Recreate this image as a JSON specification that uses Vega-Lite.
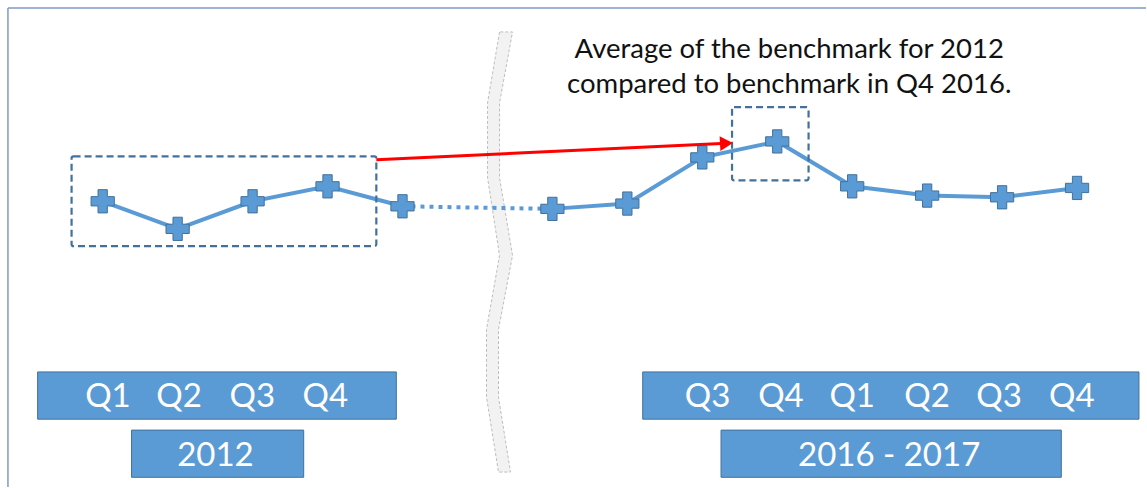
{
  "$schema": "https://vega.github.io/schema/vega-lite/v6.json",
  "width": 1147,
  "height": 488,
  "autosize": {"type": "fit", "contains": "padding"},
  "padding": 0,
  "background": "#ffffff",
  "config": {"view": {"stroke": null}},
  "datasets": {
    "series": [
      {"q": 0, "v": 58.67, "seg": "2012"},
      {"q": 1, "v": 53.01, "seg": "2012"},
      {"q": 2, "v": 58.67, "seg": "2012"},
      {"q": 3, "v": 61.74, "seg": "2012"},
      {"q": 4, "v": 57.64, "seg": "2012"},
      {"q": 6, "v": 57.11, "seg": "2016"},
      {"q": 7, "v": 58.20, "seg": "2016"},
      {"q": 8, "v": 67.68, "seg": "2016"},
      {"q": 9, "v": 70.96, "seg": "2016"},
      {"q": 10, "v": 61.74, "seg": "2016"},
      {"q": 11, "v": 59.84, "seg": "2016"},
      {"q": 12, "v": 59.49, "seg": "2016"},
      {"q": 13, "v": 61.41, "seg": "2016"}
    ],
    "gap": [
      {"q": 4, "v": 57.64},
      {"q": 6, "v": 57.11}
    ],
    "frame": [
      {"x": -1.264, "x2": -1.264, "y": 0, "y2": 98.36},
      {"x": -1.264, "x2": 13.92, "y": 98.36, "y2": 98.36}
    ],
    "strip": [
      {"y": 93.44, "l": 5.295, "r": 5.468},
      {"y": 78.89, "l": 5.135, "r": 5.295},
      {"y": 63.52, "l": 5.135, "r": 5.295},
      {"y": 47.54, "l": 5.295, "r": 5.468},
      {"y": 32.38, "l": 5.121, "r": 5.281},
      {"y": 18.44, "l": 5.121, "r": 5.281},
      {"y": 3.07, "l": 5.281, "r": 5.441}
    ],
    "focus": [
      {"x": -0.415, "x2": 3.651, "y": 67.89, "y2": 49.45},
      {"x": 8.397, "x2": 9.418, "y": 78.01, "y2": 62.97}
    ],
    "arrow": [
      {"x": 3.651, "y": 67.21, "x2": 8.254, "y2": 70.53}
    ],
    "head": [
      {"x": 8.322, "y": 70.59}
    ],
    "panels": [
      {"x": -0.868, "x2": 3.918, "y": 23.63, "y2": 13.93},
      {"x": 0.385, "x2": 2.682, "y": 11.68, "y2": 1.99},
      {"x": 7.205, "x2": 13.826, "y": 23.63, "y2": 13.93},
      {"x": 8.25, "x2": 12.79, "y": 11.68, "y2": 1.99}
    ],
    "labels": [
      {"x": 0.07, "y": 16.33, "text": "Q1"},
      {"x": 1.02, "y": 16.33, "text": "Q2"},
      {"x": 1.996, "y": 16.33, "text": "Q3"},
      {"x": 2.97, "y": 16.33, "text": "Q4"},
      {"x": 8.07, "y": 16.33, "text": "Q3"},
      {"x": 9.05, "y": 16.33, "text": "Q4"},
      {"x": 10.0, "y": 16.33, "text": "Q1"},
      {"x": 11.0, "y": 16.33, "text": "Q2"},
      {"x": 11.96, "y": 16.33, "text": "Q3"},
      {"x": 12.93, "y": 16.33, "text": "Q4"},
      {"x": 1.505, "y": 4.36, "text": "2012"},
      {"x": 10.493, "y": 4.36, "text": "2016 - 2017"}
    ],
    "notes": [
      {"x": 9.16, "y": 88.05, "text": "Average of the benchmark for 2012"},
      {"x": 9.16, "y": 80.88, "text": "compared to benchmark in Q4 2016."}
    ]
  },
  "layer": [
    {
      "data": {"name": "frame"},
      "mark": {"type": "rule", "color": "#7F9BC6", "strokeWidth": 1.5},
      "encoding": {
        "x": {"field": "x", "type": "quantitative", "scale": {"domain": [-1.37, 13.92], "nice": false, "zero": false}, "axis": null},
        "x2": {"field": "x2"},
        "y": {"field": "y", "type": "quantitative", "scale": {"domain": [0, 100], "nice": false, "zero": false}, "axis": null},
        "y2": {"field": "y2"}
      }
    },
    {
      "data": {"name": "strip"},
      "mark": {"type": "area", "orient": "horizontal", "fill": "#F2F2F2", "stroke": "#BDBDBD", "strokeWidth": 1, "strokeDash": [3, 2]},
      "encoding": {
        "y": {"field": "y", "type": "quantitative"},
        "x": {"field": "l", "type": "quantitative"},
        "x2": {"field": "r"}
      }
    },
    {
      "data": {"name": "series"},
      "mark": {"type": "line", "color": "#5B9BD5", "strokeWidth": 4, "strokeJoin": "miter"},
      "encoding": {
        "x": {"field": "q", "type": "quantitative"},
        "y": {"field": "v", "type": "quantitative"},
        "detail": {"field": "seg"}
      }
    },
    {
      "data": {"name": "gap"},
      "mark": {"type": "line", "color": "#5B9BD5", "strokeWidth": 4, "strokeDash": [4, 5]},
      "encoding": {
        "x": {"field": "q", "type": "quantitative"},
        "y": {"field": "v", "type": "quantitative"}
      }
    },
    {
      "data": {"name": "focus"},
      "mark": {"type": "rect", "fillOpacity": 0, "stroke": "#41719C", "strokeWidth": 2.2, "strokeDash": [7, 4], "cornerRadius": 2},
      "encoding": {
        "x": {"field": "x", "type": "quantitative"},
        "x2": {"field": "x2"},
        "y": {"field": "y", "type": "quantitative"},
        "y2": {"field": "y2"}
      }
    },
    {
      "data": {"name": "series"},
      "mark": {"type": "point", "shape": "cross", "filled": true, "size": 540, "fill": "#5B9BD5", "stroke": "#41719C", "strokeWidth": 1, "opacity": 1},
      "encoding": {
        "x": {"field": "q", "type": "quantitative"},
        "y": {"field": "v", "type": "quantitative"}
      }
    },
    {
      "data": {"name": "arrow"},
      "mark": {"type": "rule", "color": "#FF0000", "strokeWidth": 3},
      "encoding": {
        "x": {"field": "x", "type": "quantitative"},
        "x2": {"field": "x2"},
        "y": {"field": "y", "type": "quantitative"},
        "y2": {"field": "y2"}
      }
    },
    {
      "data": {"name": "head"},
      "mark": {"type": "point", "shape": "triangle-right", "filled": true, "size": 220, "color": "#FF0000", "opacity": 1, "angle": -3},
      "encoding": {
        "x": {"field": "x", "type": "quantitative"},
        "y": {"field": "y", "type": "quantitative"}
      }
    },
    {
      "data": {"name": "panels"},
      "mark": {"type": "rect", "fill": "#5B9BD5", "stroke": "#41719C", "strokeWidth": 1},
      "encoding": {
        "x": {"field": "x", "type": "quantitative"},
        "x2": {"field": "x2"},
        "y": {"field": "y", "type": "quantitative"},
        "y2": {"field": "y2"}
      }
    },
    {
      "data": {"name": "labels"},
      "mark": {"type": "text", "font": "Lato", "fontSize": 33, "color": "#ffffff", "align": "center", "baseline": "alphabetic"},
      "encoding": {
        "x": {"field": "x", "type": "quantitative"},
        "y": {"field": "y", "type": "quantitative"},
        "text": {"field": "text"}
      }
    },
    {
      "data": {"name": "notes"},
      "mark": {"type": "text", "font": "Lato", "fontSize": 27.5, "color": "#111111", "align": "center", "baseline": "alphabetic"},
      "encoding": {
        "x": {"field": "x", "type": "quantitative"},
        "y": {"field": "y", "type": "quantitative"},
        "text": {"field": "text"}
      }
    }
  ]
}
